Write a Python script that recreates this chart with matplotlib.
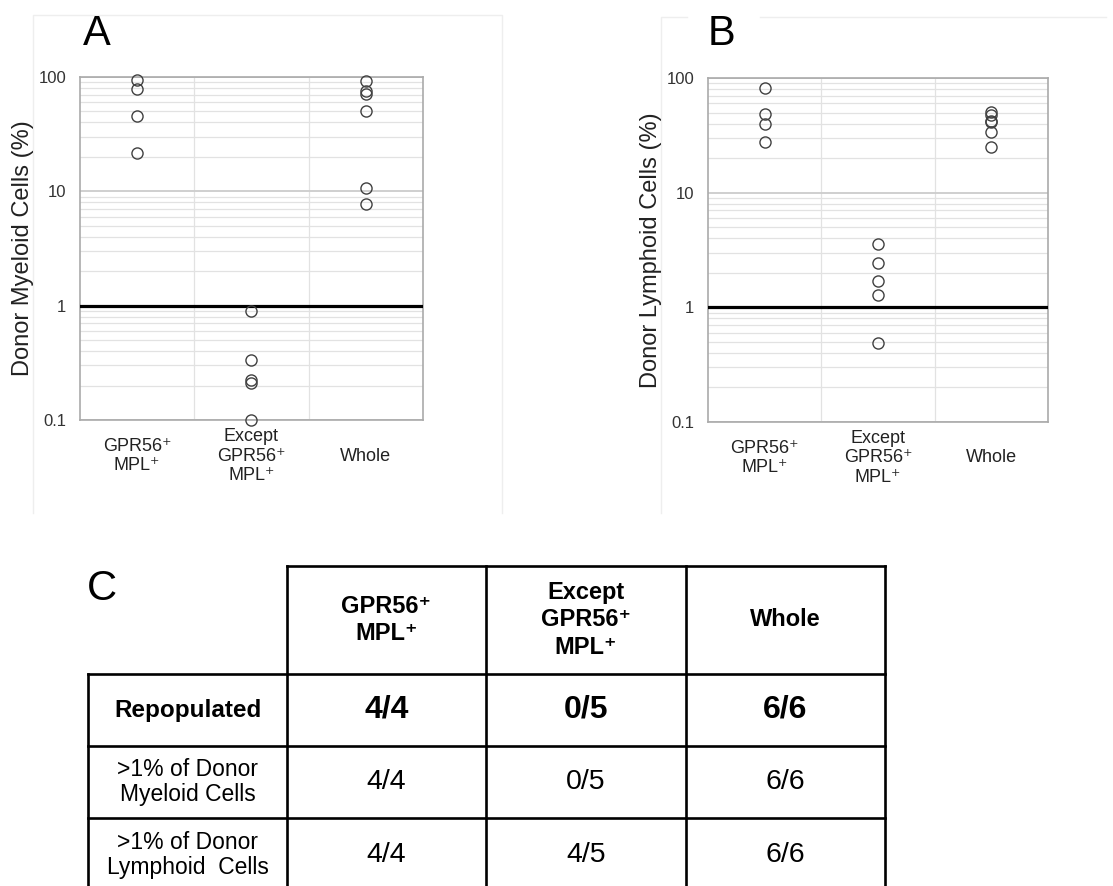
import numpy as np
import matplotlib
matplotlib.use("Agg")
import matplotlib.pyplot as plt
from matplotlib.ticker import FixedLocator, NullFormatter

plt.rcParams['font.family'] = ['Liberation Sans', 'DejaVu Sans']

# groups on the x axis
cats = ['GPR56\u207a\nMPL\u207a', 'Except\nGPR56\u207a\nMPL\u207a', 'Whole']

# donor chimerism per mouse (%)
myeloid = [
    [95, 79, 46, 21.7],
    [0.89, 0.335, 0.224, 0.209, 0.1],
    [92.5, 76, 71.6, 50.9, 10.8, 7.7],
]
lymphoid = [
    [81, 48.2, 39.4, 27.8],
    [3.59, 2.45, 1.69, 1.29, 0.485],
    [51, 48, 42, 41, 34, 25],
]
ytick_vals = [0.1, 1, 10, 100]
ytick_labels = ['0.1', '1', '10', '100']
threshold = 1

# summary table
col_headers = ['GPR56\u207a\nMPL\u207a', 'Except\nGPR56\u207a\nMPL\u207a', 'Whole']
row_labels = ['Repopulated', '>1% of Donor\nMyeloid Cells', '>1% of Donor\nLymphoid  Cells']
repopulated = ['4/4', '0/5', '6/6']
myeloid_gt1 = ['4/4', '0/5', '6/6']
lymphoid_gt1 = ['4/4', '4/5', '6/6']

W, H = 1113, 886
fig = plt.figure(figsize=(W / 100, H / 100), dpi=100)

# background axes in pixel units for the panel frames and the table
bg = fig.add_axes([0, 0, 1, 1])
bg.set_xlim(0, W)
bg.set_ylim(H, 0)
bg.axis('off')
bg.set_zorder(-1)

frame_c = '#eeeeee'
bg.plot([33, 33, 502, 502], [513, 15, 15, 513], color=frame_c, lw=1)
bg.plot([661, 661, 687], [513, 17, 17], color=frame_c, lw=1)
bg.plot([760, 1106], [17, 17], color=frame_c, lw=1)


def px_axes(left, top, right, bottom):
    return fig.add_axes([left / W, 1 - bottom / H, (right - left) / W, (bottom - top) / H])


def dot_panel(ax, data, ylabel):
    ax.set_yscale('log')
    ax.set_ylim(0.1, 100)
    ax.set_xlim(-0.5, len(cats) - 0.5)

    ax.yaxis.set_major_locator(FixedLocator(ytick_vals))
    ax.set_yticklabels(ytick_labels)
    ax.yaxis.set_minor_formatter(NullFormatter())
    ax.xaxis.set_major_locator(FixedLocator([]))
    ax.xaxis.set_minor_locator(FixedLocator([0.5, 1.5]))
    ax.tick_params(axis='both', which='both', length=0)
    ax.tick_params(axis='y', which='major', pad=10, labelsize=12, labelcolor='#333333')

    ax.grid(True, axis='y', which='minor', color='#e2e2e2', lw=0.9)
    ax.grid(True, axis='y', which='major', color='#cccccc', lw=1.3)
    ax.grid(True, axis='x', which='minor', color='#e2e2e2', lw=0.9)
    ax.set_axisbelow(True)
    for s in ax.spines.values():
        s.set_color('#aaaaaa')
        s.set_linewidth(1.2)

    ax.axhline(threshold, color='black', lw=2.3, zorder=3)

    for i, vals in enumerate(data):
        ax.plot([i] * len(vals), vals, 'o', ms=8, mfc='none', mec='#404040',
                mew=1.0, clip_on=False, zorder=4)

    for i, lab in enumerate(cats):
        ax.annotate(lab, xy=(i, 0), xycoords=('data', 'axes fraction'),
                    xytext=(0, -36), textcoords='offset pixels',
                    ha='center', va='center', fontsize=13, color='#222222')

    ax.set_ylabel(ylabel, fontsize=17, color='#222222')
    ax.yaxis.set_label_coords(-57 / 343, 0.5)
    ax.yaxis.label.set_va('center')


ax_a = px_axes(80, 77, 423, 420)
dot_panel(ax_a, myeloid, 'Donor Myeloid Cells (%)')
ax_b = px_axes(708, 78, 1048, 422)
dot_panel(ax_b, lymphoid, 'Donor Lymphoid Cells (%)')

# panel letters
fig.text(83 / W, 1 - 45 / H, 'A', fontsize=30, va='baseline')
fig.text(708 / W, 1 - 45 / H, 'B', fontsize=30, va='baseline')
bg.text(87, 600, 'C', fontsize=30, va='baseline', ha='left')

# table grid
col_x = [88, 287, 486, 686, 885]
row_y = [566, 674, 746, 818]
lw_t = 1.9
bg.plot([col_x[1], col_x[-1]], [row_y[0], row_y[0]], color='black', lw=lw_t, solid_capstyle='projecting')
for y in row_y[1:]:
    bg.plot([col_x[0], col_x[-1]], [y, y], color='black', lw=lw_t, solid_capstyle='projecting')
bg.plot([col_x[0], col_x[0]], [row_y[1], H + 5], color='black', lw=lw_t, solid_capstyle='projecting')
for x in col_x[1:]:
    bg.plot([x, x], [row_y[0], H + 5], color='black', lw=lw_t, solid_capstyle='projecting')

col_cx = [(col_x[i] + col_x[i + 1]) / 2 for i in range(len(col_x) - 1)]
row_cy = [620, 710, 782, 855]

for j, h in enumerate(col_headers):
    bg.text(col_cx[j + 1], row_cy[0], h, ha='center', va='center', fontsize=17,
            fontweight='bold', linespacing=1.25)

bg.text(col_cx[0], row_cy[1], row_labels[0], ha='center', va='center',
        fontsize=17.5, fontweight='bold')
for lab, cy in zip(row_labels[1:], row_cy[2:]):
    bg.text(col_cx[0], cy, lab, ha='center', va='center', fontsize=16.5, linespacing=1.15)

for j, v in enumerate(repopulated):
    bg.text(col_cx[j + 1], row_cy[1], v, ha='center', va='center', fontsize=23, fontweight='bold')
for j, v in enumerate(myeloid_gt1):
    bg.text(col_cx[j + 1], row_cy[2], v, ha='center', va='center', fontsize=20.5)
for j, v in enumerate(lymphoid_gt1):
    bg.text(col_cx[j + 1], row_cy[3], v, ha='center', va='center', fontsize=20.5)

fig.savefig('out.png', dpi=100)
